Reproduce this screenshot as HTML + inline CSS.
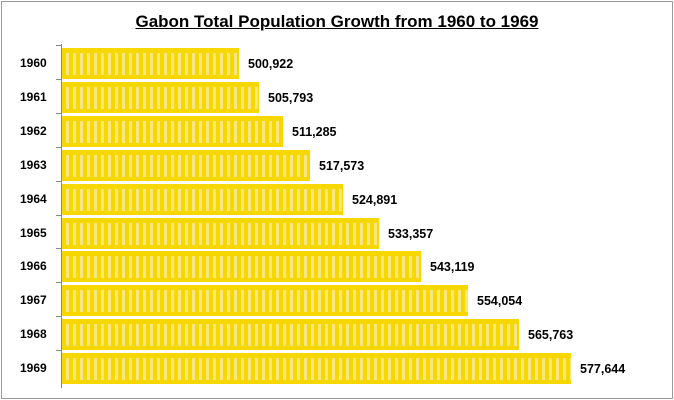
<!DOCTYPE html><html><head><style>
body{margin:0;width:674px;height:400px;background:#fff;font-family:"Liberation Sans",Arial,sans-serif;overflow:hidden}
.frame{position:absolute;left:1px;top:1px;width:670px;height:396px;border:1px solid #999}
.title{position:absolute;left:0;width:674px;top:12px;text-align:center;font-weight:bold;font-size:17px;}
.title span{text-decoration:underline}
.axis{position:absolute;left:61px;top:44px;width:1px;height:344px;background:#888}
.bar{position:absolute;left:62px;height:31px;background:#f6d800;background-image:linear-gradient(#f6d800 0,#f6d800 5px,transparent 5px,transparent 27px,#f6d800 27px),repeating-linear-gradient(90deg,#f6d800 0,#f6d800 4px,#fae680 4px,#fae680 7px);}
.yl{position:absolute;left:20px;font-weight:bold;font-size:12px;width:34px}
.v{position:absolute;font-weight:bold;font-size:12.5px}
.tk{position:absolute;left:56px;width:5px;height:1px;background:#888}
</style></head><body>
<div class="frame"></div>
<div class="title"><span>Gabon Total Population Growth from 1960 to 1969</span></div>
<div class="axis"></div>
<div id="c"></div>
<script>
var d=[[1960,239,"500,922"],[1961,259,"505,793"],[1962,283,"511,285"],[1963,310,"517,573"],[1964,343,"524,891"],[1965,379,"533,357"],[1966,421,"543,119"],[1967,468,"554,054"],[1968,519,"565,763"],[1969,571,"577,644"]];
var h="";
d.forEach(function(r,i){var t=48+i*33.9;
h+='<div class="bar" style="top:'+t+'px;width:'+(r[1]-62)+'px"></div>';
h+='<div class="yl" style="top:'+(t+8)+'px">'+r[0]+'</div>';
h+='<div class="v" style="top:'+(t+9)+'px;left:'+(r[1]+9)+'px">'+r[2]+'</div>';
h+='<div class="tk" style="top:'+(t-3)+'px"></div>';});
document.getElementById("c").innerHTML=h;
</script>
</body></html>
